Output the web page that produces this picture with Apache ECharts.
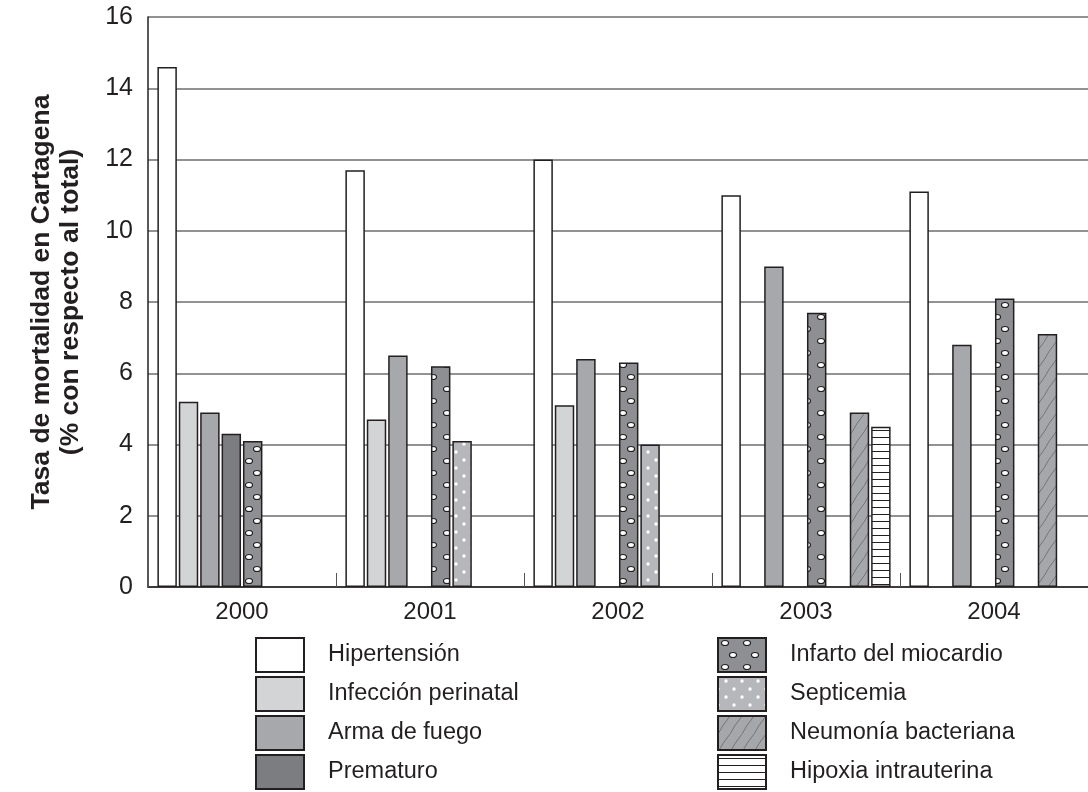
<!DOCTYPE html>
<html>
<head>
<meta charset="utf-8">
<script src="https://cdn.jsdelivr.net/npm/echarts@6/dist/echarts.min.js"></script>
<style>
html,body{margin:0;padding:0;background:#fff;}
#chart{width:1088px;height:792px;}
</style>
</head>
<body>
<div id="chart"></div>
<script>
const categories = ['2000', '2001', '2002', '2003', '2004'];
const seriesNames = ['Hipertensión', 'Infección perinatal', 'Arma de fuego', 'Prematuro',
  'Infarto del miocardio', 'Septicemia', 'Neumonía bacteriana', 'Hipoxia intrauterina'];
const hipertension = [14.6, 11.7, 12.0, 11.0, 11.1];
const infeccionPerinatal = [5.2, 4.7, 5.1, null, null];
const armaDeFuego = [4.9, 6.5, 6.4, 9.0, 6.8];
const prematuro = [4.3, null, null, null, null];
const infartoMiocardio = [4.1, 6.2, 6.3, 7.7, 8.1];
const septicemia = [null, 4.1, 4.0, null, null];
const neumoniaBacteriana = [null, null, null, 4.9, 7.1];
const hipoxiaIntrauterina = [null, null, null, 4.5, null];
const yMin = 0, yMax = 16, yStep = 2;

const seriesData = [hipertension, infeccionPerinatal, armaDeFuego, prematuro,
  infartoMiocardio, septicemia, neumoniaBacteriana, hipoxiaIntrauterina];

function tile(w, h, draw) {
  const c = document.createElement('canvas');
  c.width = w; c.height = h;
  draw(c.getContext('2d'), w, h);
  return { image: c, repeat: 'repeat' };
}
const infartoPattern = tile(22, 24, (g, w, h) => {
  g.fillStyle = '#8e8f92'; g.fillRect(0, 0, w, h);
  g.fillStyle = '#ffffff'; g.strokeStyle = '#231f20'; g.lineWidth = 1.2;
  [[7, 5], [15, 17]].forEach(p => {
    g.beginPath(); g.ellipse(p[0], p[1], 3.5, 2.5, 0, 0, Math.PI * 2); g.fill(); g.stroke();
  });
});
const septicemiaPattern = tile(16, 16, (g, w, h) => {
  g.fillStyle = '#b6b7ba'; g.fillRect(0, 0, w, h);
  g.fillStyle = '#ffffff';
  [[8, 4], [0, 12], [16, 12]].forEach(p => {
    g.beginPath(); g.arc(p[0], p[1], 1.7, 0, Math.PI * 2); g.fill();
  });
});
const neumoniaPattern = tile(12, 18, (g, w, h) => {
  g.fillStyle = '#a6a7aa'; g.fillRect(0, 0, w, h);
  g.strokeStyle = '#5e5f62'; g.lineWidth = 0.7;
  g.beginPath(); g.moveTo(0, 18); g.quadraticCurveTo(4, 10, 12, 0); g.stroke();
});
const hipoxiaPattern = tile(8, 7, (g, w, h) => {
  g.fillStyle = '#ffffff'; g.fillRect(0, 0, w, h);
  g.strokeStyle = '#231f20'; g.lineWidth = 1;
  g.beginPath(); g.moveTo(0, 3.5); g.lineTo(w, 3.5); g.stroke();
});
const fills = ['#ffffff', '#d3d4d6', '#a7a8ab', '#7c7d80',
  infartoPattern, septicemiaPattern, neumoniaPattern, hipoxiaPattern];

const FONT = '"Liberation Sans", Arial, sans-serif';

// one legend component per entry: two columns of four rows
const legends = seriesNames.map((name, i) => ({
  data: [name],
  orient: 'vertical',
  left: i < 4 ? 255 : 717,
  top: 637 + (i % 4) * 39,
  padding: 0,
  icon: 'rect', itemWidth: 48, itemHeight: 34,
  textStyle: { fontFamily: FONT, fontSize: 23.5, color: '#231f20', padding: [0, 0, 0, 19] },
  selectedMode: false
}));

const chart = echarts.init(document.getElementById('chart'), null, { renderer: 'canvas' });
chart.setOption({
  animation: false,
  backgroundColor: '#ffffff',
  grid: { left: 148, top: 17, right: -10, bottom: 205, containLabel: false },
  legend: legends,
  xAxis: {
    type: 'category', data: categories,
    axisLine: { lineStyle: { color: '#231f20', width: 1.5 } },
    axisTick: { show: true, inside: true, length: 14, lineStyle: { color: '#555', width: 1 } },
    axisLabel: { fontFamily: FONT, fontSize: 24, color: '#231f20', margin: 13 }
  },
  yAxis: {
    type: 'value', min: yMin, max: yMax, interval: yStep,
    name: 'Tasa de mortalidad en Cartagena\n(% con respecto al total)',
    nameLocation: 'middle', nameRotate: 90, nameGap: 63,
    nameTextStyle: { fontFamily: FONT, fontWeight: 'bold', fontSize: 26.5, color: '#231f20', lineHeight: 29 },
    axisLine: { show: true, lineStyle: { color: '#231f20', width: 1.5 } },
    axisTick: { show: false },
    axisLabel: { fontFamily: FONT, fontSize: 25, color: '#231f20', margin: 15 },
    splitLine: { show: true, lineStyle: { color: '#6d6e71', width: 1.5 } }
  },
  series: seriesNames.map((name, i) => ({
    name: name, type: 'bar', data: seriesData[i],
    barCategoryGap: '10%', barGap: '10%',
    itemStyle: { color: fills[i], borderColor: '#231f20', borderWidth: 1.5 }
  }))
});
</script>
</body>
</html>
